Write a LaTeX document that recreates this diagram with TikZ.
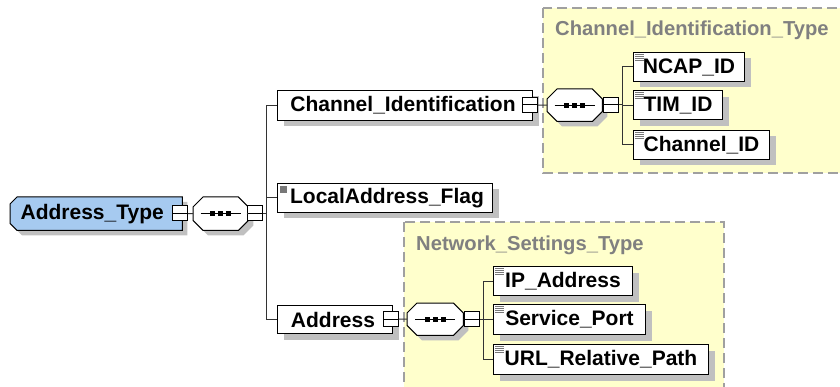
\documentclass[tikz,border=0pt]{standalone}
\usepackage{fontspec}
\setmainfont{Liberation Sans}
\usetikzlibrary{calc,shadows}
\pgfdeclarelayer{background}
\pgfsetlayers{background,main}
\definecolor{blueT}{RGB}{166,202,240}
\definecolor{yel}{RGB}{255,255,204}
\definecolor{dashg}{RGB}{160,160,160}
\definecolor{shd}{RGB}{192,192,192}
\definecolor{titleg}{RGB}{128,128,128}
\definecolor{icong}{RGB}{120,120,120}
\newcommand\octpath[2]{($(#1.north west)+(#2,0)$) -- ($(#1.north east)+(-#2,0)$) -- ($(#1.north east)+(0,#2)$) -- ($(#1.south east)+(0,-#2)$) -- ($(#1.south east)+(-#2,0)$) -- ($(#1.south west)+(#2,0)$) -- ($(#1.south west)+(0,-#2)$) -- ($(#1.north west)+(0,#2)$) -- cycle}
\newcommand\seqoct[1]{%
  \fill[shd, transform canvas={shift={(5,5)}}] \octpath{#1}{10};
  \draw[line width=1pt, fill=white] \octpath{#1}{10};
  \draw[line width=1pt] ($(#1.center)+(-20,0)$) -- ($(#1.center)+(20,0)$);
  \foreach \dx in {-8,0,8} \fill ($(#1.center)+(\dx-2.5,-2.5)$) rectangle ++(5,5);
}
\newcommand\simpleicon[1]{%
  \foreach \k in {0,1,2,3} \draw[icong, line width=1pt] ($(#1.north west)+(2,2.5+2*\k)$) -- ++(9,0);
}
\tikzset{
  lbl/.style={font=\fontsize{21}{24}\selectfont\bfseries},
  elem/.style={lbl, draw=black, line width=1pt, fill=white, anchor=north west, inner sep=0pt,
    drop shadow={shadow xshift=6pt, shadow yshift=-6pt, fill=shd, opacity=1}},
  seqnode/.style={anchor=north west, inner sep=0pt, minimum width=55, minimum height=33},
  minus/.style={draw=black, line width=1pt, fill=white, minimum size=15, inner sep=0pt,
    path picture={\draw[line width=1pt] (path picture bounding box.west) -- (path picture bounding box.east);}},
  conn/.style={line width=1pt, draw=black!80},
  typebox/.style={fill=yel, draw=dashg, line width=1.5pt, dash pattern=on 10pt off 5pt},
  typetitle/.style={font=\fontsize{20.2}{24}\selectfont\bfseries, text=titleg, anchor=west, inner sep=0pt}
}
\begin{document}
\begin{tikzpicture}[x=1pt,y=-1pt]
\useasboundingbox (0,0) rectangle (840,387);
\clip (0,0) rectangle (840,387);

% type boxes
\draw[typebox] (543,8) rectangle (870,173);
\draw[typebox] (404,222) rectangle (724,410);
\node[typetitle] (citT) at (555,30) {Channel\_Identification\_Type};
\node[typetitle] (nstT) at (416,245) {Network\_Settings\_Type};

% root
\node[lbl, anchor=north west, inner sep=0pt, minimum width=172, minimum height=33] (at) at (10,197) {\hspace*{-8pt}Address\_Type};
\begin{pgfonlayer}{background}
  \fill[shd, transform canvas={shift={(5,5)}}] ($(at.north west)+(7,0)$) -- (at.north east) -- (at.south east) -- ($(at.south west)+(7,0)$) -- ($(at.south west)+(0,-7)$) -- ($(at.north west)+(0,7)$) -- cycle;
  \draw[fill=blueT, line width=1pt] ($(at.north west)+(7,0)$) -- (at.north east) -- (at.south east) -- ($(at.south west)+(7,0)$) -- ($(at.south west)+(0,-7)$) -- ($(at.north west)+(0,7)$) -- cycle;
\end{pgfonlayer}
\node[minus] (atm) at (180,213.5) {};
\node[seqnode] (s1) at (193,197) {};
\seqoct{s1}
\node[minus] (s1m) at (255,213.5) {};
\coordinate (b1) at (266,213.5);

% children of root
\node[elem, minimum width=255, minimum height=30] (ci) at (277,90) {\hspace*{-4pt}Channel\_Identification};
\node[elem, minimum width=215, minimum height=29] (la) at (277,183) {\hspace*{4pt}LocalAddress\_Flag};
\node[elem, minimum width=115, minimum height=28] (ad) at (277,305) {\hspace*{-4pt}Address};
\fill[icong] ($(la.north west)+(3,3)$) rectangle ++(7,7);
\node[minus] (cim) at (530,105) {};
\node[minus] (adm) at (391,319) {};

% Channel_Identification_Type content
\node[seqnode, minimum height=32] (s2) at (547,89) {};
\seqoct{s2}
\node[minus] (s2m) at (610.5,105) {};
\coordinate (b2) at (622,105);
\node[elem, minimum width=111, minimum height=29] (ncap) at (633,52) {NCAP\_ID};
\node[elem, minimum width=89, minimum height=29] (tim) at (633,90.5) {TIM\_ID};
\node[elem, minimum width=136, minimum height=29] (chid) at (633,130) {Channel\_ID};
\simpleicon{ncap}
\simpleicon{tim}
\simpleicon{chid}

% Network_Settings_Type content
\node[seqnode, minimum width=56, minimum height=32] (s3) at (407,303) {};
\seqoct{s3}
\node[minus] (s3m) at (471.5,319) {};
\coordinate (b3) at (483,319);
\node[elem, minimum width=139, minimum height=29] (ip) at (493,266) {IP\_Address};
\node[elem, minimum width=152, minimum height=30] (sp) at (493,304) {Service\_Port};
\node[elem, minimum width=215, minimum height=30] (url) at (493,344) {URL\_Relative\_Path};
\simpleicon{ip}
\simpleicon{sp}
\simpleicon{url}

% connectors
\draw[conn] (atm.east) -- (s1.west);
\draw[conn] (s1.east) -- (s1m.west);
\draw[conn] (s1m.east) -- (b1);
\draw[conn] (b1) |- (ci.west);
\draw[conn] (b1) |- (la.west);
\draw[conn] (b1) |- (ad.west);

\draw[conn] (cim.east) -- (s2.west);
\draw[conn] (s2.east) -- (s2m.west);
\draw[conn] (s2m.east) -- (b2);
\draw[conn] (b2) |- (ncap.west);
\draw[conn] (b2) |- (tim.west);
\draw[conn] (b2) |- (chid.west);

\draw[conn] (adm.east) -- (s3.west);
\draw[conn] (s3.east) -- (s3m.west);
\draw[conn] (s3m.east) -- (b3);
\draw[conn] (b3) |- (ip.west);
\draw[conn] (b3) |- (sp.west);
\draw[conn] (b3) |- (url.west);
\end{tikzpicture}
\end{document}
